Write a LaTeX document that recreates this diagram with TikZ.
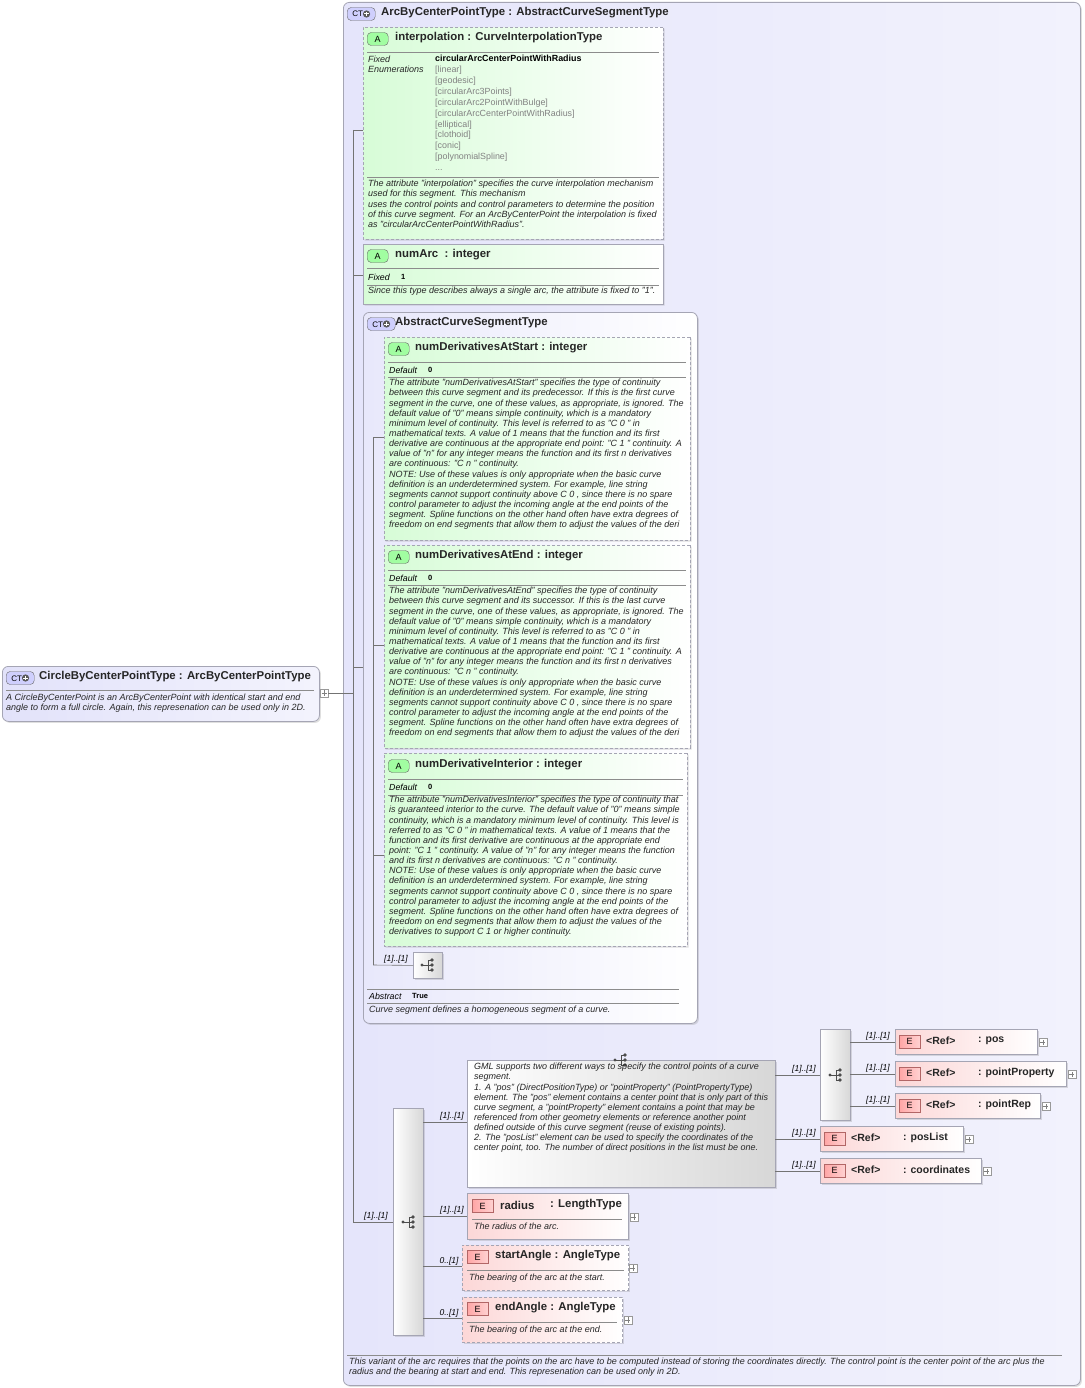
\documentclass[tikz,border=0pt]{standalone}
\usepackage{fontspec}
\setmainfont{Liberation Sans}
\usetikzlibrary{shapes.misc,shadows}
\definecolor{bord}{RGB}{165,165,180}
\definecolor{ctfill}{RGB}{226,226,250}
\definecolor{grn}{RGB}{215,252,215}
\definecolor{pnk}{RGB}{252,215,215}
\definecolor{gry}{RGB}{215,215,215}
\definecolor{txtg}{RGB}{130,130,130}
\tikzset{
 box/.style={draw=bord,anchor=north west,inner sep=0,line width=0.8pt},
 shd/.style={drop shadow={opacity=0.25,shadow xshift=1.5pt,shadow yshift=-1.5pt}},
 ctbox/.style={box,rounded corners=6pt,left color=ctfill,right color=ctfill!40!white,shd},
 abox/.style={box,chamfered rectangle,chamfered rectangle xsep=4pt,chamfered rectangle ysep=4pt,left color=grn,right color=white,shd},
 ebox/.style={box,left color=pnk,right color=white,shd},
 gbox/.style={box,left color=white,right color=gry,shd},
 dsh/.style={dash pattern=on 3pt off 2pt},
 hdr/.style={anchor=west,inner sep=0,font=\fontsize{11.4}{12}\selectfont\bfseries,text=black!85},
 desc/.style={anchor=north west,inner sep=0,align=left,font=\fontsize{9}{10.15}\selectfont\itshape,text=black!85},
 lbl/.style={anchor=south,inner sep=0,font=\fontsize{8.5}{9}\selectfont\itshape},
 sm/.style={anchor=west,inner sep=0,font=\fontsize{8.8}{9}\selectfont\itshape},
 smb/.style={anchor=west,inner sep=0,font=\fontsize{7.5}{9}\selectfont\bfseries},
 sep/.style={draw=black!45,line width=0.6pt},
 conn/.style={draw=black!55,line width=0.6pt},
 seqic/.pic={\fill[black!70] (-6,0) circle (1.6pt); \draw[black!70,line width=0.8pt] (-6,0)--(0,0) (0,-5)--(0,5) (0,-5)--(4,-5) (0,0)--(4,0) (0,5)--(4,5); \fill[black!70] (4,-5) circle (1.8pt) (4,0) circle (1.8pt) (4,5) circle (1.8pt);},
}
\newcommand\abadge[3]{\node[draw=black!60,fill=green!25!grn,rounded corners=4pt,minimum width=21pt,minimum height=13pt,inner sep=0,font=\fontsize{9}{9}\selectfont,anchor=west] (#3) at (#1,#2) {A};}
\newcommand\ebadge[3]{\node[draw=red!50!black!60,left color=red!35,right color=red!18,minimum width=21pt,minimum height=13pt,inner sep=0,font=\fontsize{9}{9}\selectfont,anchor=west] (#3) at (#1,#2) {E};}
\newcommand\ctbadge[3]{\node[draw=black!60,fill=ctfill!70!blue!50,rounded corners=4pt,minimum width=28pt,minimum height=13pt,inner sep=1pt,font=\fontsize{8}{8}\selectfont,anchor=west] (#3) at (#1,#2) {CT\tikz[baseline=-3pt]{\fill[black!65] (0,0) circle (3.6pt);\draw[white,line width=1pt] (-2.2pt,0)--(2.2pt,0) (0,-2.2pt)--(0,2.2pt);}};}
\newcommand\plusbox[3]{\node[draw=black!40,fill=white,minimum size=8pt,inner sep=0,anchor=west] (#3) at (#1,#2) {}; \draw[black!50,line width=0.4pt] ([xshift=1.5pt]#3.west)--([xshift=-1.5pt]#3.east) ([yshift=1.5pt]#3.south)--([yshift=-1.5pt]#3.north);}
\begin{document}
\begin{tikzpicture}[x=1pt,y=-1pt]
\useasboundingbox[fill=white] (0,0) rectangle (1084,1388);
% outer arc box
\node[ctbox,minimum width=737,minimum height=1383,left color=ctfill!90!white,right color=ctfill!45!white] (arc) at (343,2) {};
\ctbadge{347}{14}{arcb}
\node[hdr] (arch) at (381,13) {ArcByCenterPointType : AbstractCurveSegmentType};
% left box
\node[ctbox,minimum width=317,minimum height=55] (cbp) at (2,666) {};
\ctbadge{6}{678}{cbpb}
\node[hdr] (cbph) at (39,677) {CircleByCenterPointType : ArcByCenterPointType};
\draw[sep] (6,690)--(314,690);
\node[desc] (cbpd) at (6,694) {A CircleByCenterPoint is an ArcByCenterPoint with identical start and end\\angle to form a full circle. Again, this represenation can be used only in 2D.};
\plusbox{320}{693}{cbpx}
% main connectors
\coordinate (j0) at (353,693);
\draw[conn] (cbpx.east)--(j0);
\draw[conn] (353,130)--(353,1222);
% interpolation
\node[abox,dsh,minimum width=300,minimum height=212] (interp) at (363,27) {};
\abadge{367}{39}{ib}
\node[hdr] (ih) at (395,38) {interpolation : CurveInterpolationType};
\draw[sep] (367,52)--(659,52);
\node[desc] (ifx) at (368,56) {Fixed\\Enumerations};
\node[anchor=north west,inner sep=0,align=left,font=\fontsize{8.9}{10.9}\selectfont] (ienum) at (435,55) {\textbf{circularArcCenterPointWithRadius}\\\color{txtg}[linear]\\\color{txtg}[geodesic]\\\color{txtg}[circularArc3Points]\\\color{txtg}[circularArc2PointWithBulge]\\\color{txtg}[circularArcCenterPointWithRadius]\\\color{txtg}[elliptical]\\\color{txtg}[clothoid]\\\color{txtg}[conic]\\\color{txtg}[polynomialSpline]\\\color{txtg}...};
\draw[sep] (367,177)--(659,177);
\node[desc] (id) at (368,180) {The attribute "interpolation" specifies the curve interpolation mechanism\\used for this segment. This mechanism\\uses the control points and control parameters to determine the position\\of this curve segment. For an ArcByCenterPoint the interpolation is fixed\\as "circularArcCenterPointWithRadius".};
\draw[conn] (353,130)--(interp.west|-0,130);
% numArc
\node[abox,minimum width=300,minimum height=60] (narc) at (363,244) {};
\abadge{367}{256}{nb}
\node[hdr] (nh) at (395,255) {numArc \ : integer};
\draw[sep] (367,268)--(659,268);
\node[sm] (nf) at (368,277) {Fixed};
\node[smb] (nfv) at (401,277) {1};
\draw[sep] (367,285)--(659,285);
\node[desc] (nd) at (368,287) {Since this type describes always a single arc, the attribute is fixed to "1".};
\draw[conn] (353,275)--(363,275);
% abstract
\node[ctbox,minimum width=334,minimum height=711,left color=ctfill!80!white,right color=white] (abs) at (363,312) {};
\ctbadge{367}{324}{absb}
\node[hdr] (absh) at (395,323) {AbstractCurveSegmentType};
\draw[conn] (353,667)--(363,667);
\draw[conn] (373,437)--(373,965);
% start
\node[abox,dsh,minimum width=306,minimum height=203] (ds) at (384,337) {};
\abadge{388}{349}{dsb}
\node[hdr] (dsh) at (415,348) {numDerivativesAtStart : integer};
\draw[sep] (388,362)--(686,362);
\node[sm] (dsf) at (389,370) {Default};
\node[smb] (dsv) at (428,370) {0};
\draw[sep] (388,377)--(686,377);
\node[desc] (dsd) at (389,379) {The attribute "numDerivativesAtStart" specifies the type of continuity\\between this curve segment and its predecessor. If this is the first curve\\segment in the curve, one of these values, as appropriate, is ignored. The\\default value of "0" means simple continuity, which is a mandatory\\minimum level of continuity. This level is referred to as "C 0 " in\\mathematical texts. A value of 1 means that the function and its first\\derivative are continuous at the appropriate end point: "C 1 " continuity. A\\value of "n" for any integer means the function and its first n derivatives\\are continuous: "C n " continuity.\\NOTE: Use of these values is only appropriate when the basic curve\\definition is an underdetermined system. For example, line string\\segments cannot support continuity above C 0 , since there is no spare\\control parameter to adjust the incoming angle at the end points of the\\segment. Spline functions on the other hand often have extra degrees of\\freedom on end segments that allow them to adjust the values of the deri};
\draw[conn] (373,437)--(384,437);
% end
\node[abox,dsh,minimum width=306,minimum height=203] (de) at (384,545) {};
\abadge{388}{557}{deb}
\node[hdr] (deh) at (415,556) {numDerivativesAtEnd : integer};
\draw[sep] (388,570)--(686,570);
\node[sm] (def) at (389,578) {Default};
\node[smb] (dev) at (428,578) {0};
\draw[sep] (388,585)--(686,585);
\node[desc] (ded) at (389,587) {The attribute "numDerivativesAtEnd" specifies the type of continuity\\between this curve segment and its successor. If this is the last curve\\segment in the curve, one of these values, as appropriate, is ignored. The\\default value of "0" means simple continuity, which is a mandatory\\minimum level of continuity. This level is referred to as "C 0 " in\\mathematical texts. A value of 1 means that the function and its first\\derivative are continuous at the appropriate end point: "C 1 " continuity. A\\value of "n" for any integer means the function and its first n derivatives\\are continuous: "C n " continuity.\\NOTE: Use of these values is only appropriate when the basic curve\\definition is an underdetermined system. For example, line string\\segments cannot support continuity above C 0 , since there is no spare\\control parameter to adjust the incoming angle at the end points of the\\segment. Spline functions on the other hand often have extra degrees of\\freedom on end segments that allow them to adjust the values of the deri};
\draw[conn] (373,645)--(384,645);
% interior
\node[abox,dsh,minimum width=303,minimum height=193] (di) at (384,753) {};
\abadge{388}{766}{dib}
\node[hdr] (dih) at (415,765) {numDerivativeInterior : integer};
\draw[sep] (388,779)--(683,779);
\node[sm] (dif) at (389,787) {Default};
\node[smb] (div) at (428,787) {0};
\draw[sep] (388,795)--(683,795);
\node[desc] (did) at (389,796) {The attribute "numDerivativesInterior" specifies the type of continuity that\\is guaranteed interior to the curve. The default value of "0" means simple\\continuity, which is a mandatory minimum level of continuity. This level is\\referred to as "C 0 " in mathematical texts. A value of 1 means that the\\function and its first derivative are continuous at the appropriate end\\point: "C 1 " continuity. A value of "n" for any integer means the function\\and its first n derivatives are continuous: "C n " continuity.\\NOTE: Use of these values is only appropriate when the basic curve\\definition is an underdetermined system. For example, line string\\segments cannot support continuity above C 0 , since there is no spare\\control parameter to adjust the incoming angle at the end points of the\\segment. Spline functions on the other hand often have extra degrees of\\freedom on end segments that allow them to adjust the values of the\\derivatives to support C 1 or higher continuity.};
\draw[conn] (373,855)--(384,855);
% abstract seq
\node[gbox,minimum width=29,minimum height=26] (aseq) at (413,952) {};
\pic at (428,965) {seqic};
\draw[conn] (373,965)--(aseq.west);
\node[lbl] (aseql) at (396,963) {[1]..[1]};
\draw[sep] (367,989)--(679,989);
\node[sm] (absa) at (369,996) {Abstract};
\node[smb] (absv) at (412,996) {True};
\draw[sep] (367,1003)--(679,1003);
\node[desc] (absd) at (369,1006) {Curve segment defines a homogeneous segment of a curve.};
% big sequence
\node[gbox,minimum width=30,minimum height=227] (bseq) at (393,1108) {};
\pic at (409,1222) {seqic};
\draw[conn] (353,1222)--(bseq.west|-0,1222);
\node[lbl] (bseql) at (376,1220) {[1]..[1]};
% choice
\node[gbox,minimum width=308,minimum height=127] (ch) at (467,1060) {};
\pic at (621,1060) {seqic};
\node[desc] (chd) at (474,1063) {GML supports two different ways to specify the control points of a curve\\segment.\\1. A "pos" (DirectPositionType) or "pointProperty" (PointPropertyType)\\element. The "pos" element contains a center point that is only part of this\\curve segment, a "pointProperty" element contains a point that may be\\referenced from other geometry elements or reference another point\\defined outside of this curve segment (reuse of existing points).\\2. The "posList" element can be used to specify the coordinates of the\\center point, too. The number of direct positions in the list must be one.};
\draw[conn] (423,1122)--(467,1122);
\node[lbl] (chl) at (452,1120) {[1]..[1]};
% inner seq
\node[gbox,minimum width=30,minimum height=91] (iseq) at (820,1029) {};
\pic at (836,1075) {seqic};
\draw[conn] (775,1075)--(820,1075);
\node[lbl] (iseql) at (804,1073) {[1]..[1]};
% refs
\newcommand\refbox[6]{\node[ebox,minimum width=#3,minimum height=25] (#6) at (#1,#2) {};
 \ebadge{#1+4}{#2+12.5}{#6b}
 \node[hdr,font=\fontsize{10.5}{11}\selectfont\bfseries] at (#1+31,#2+11.5) {<Ref>};
 \node[hdr,font=\fontsize{10.5}{11}\selectfont\bfseries] at (#1+#5,#2+11.5) {: #4};
 \plusbox{#1+#3+1.5}{#2+13.5}{#6x}}
\refbox{895}{1029}{142}{pos}{83}{rpos}
\refbox{895}{1061}{171}{pointProperty}{83}{rpp}
\refbox{895}{1093}{145}{pointRep}{83}{rpr}
\refbox{820}{1126}{143}{posList}{83}{rpl}
\refbox{820}{1158}{161}{coordinates}{83}{rco}
\draw[conn] (850,1042)--(895,1042); \node[lbl] at (878,1040) {[1]..[1]};
\draw[conn] (850,1074)--(895,1074); \node[lbl] at (878,1072) {[1]..[1]};
\draw[conn] (850,1106)--(895,1106); \node[lbl] at (878,1104) {[1]..[1]};
\draw[conn] (775,1139)--(820,1139); \node[lbl] at (804,1137) {[1]..[1]};
\draw[conn] (775,1171)--(820,1171); \node[lbl] at (804,1169) {[1]..[1]};
% radius
\node[ebox,minimum width=161,minimum height=46] (rad) at (467,1193) {};
\ebadge{472}{1206}{radb}
\node[hdr] (radh) at (500,1205) {radius};
\node[hdr] (radt) at (550,1205) {: LengthType};
\draw[sep] (472,1219)--(622,1219);
\node[desc] (radd) at (474,1223) {The radius of the arc.};
\plusbox{629.5}{1217}{radx}
\draw[conn] (423,1216)--(467,1216); \node[lbl] at (452,1214) {[1]..[1]};
% start angle
\node[ebox,dsh,minimum width=166,minimum height=45] (sa) at (462,1245) {};
\ebadge{467}{1257}{sab}
\node[hdr] (sah) at (495,1256) {startAngle : AngleType};
\draw[sep] (467,1270)--(624,1270);
\node[desc] (sad) at (469,1274) {The bearing of the arc at the start.};
\plusbox{628.5}{1268}{sax}
\draw[conn] (423,1266)--(462,1266); \node[lbl] at (449,1265) {0..[1]};
% end angle
\node[ebox,dsh,minimum width=160,minimum height=45] (ea) at (462,1297) {};
\ebadge{467}{1309}{eab}
\node[hdr] (eah) at (495,1308) {endAngle : AngleType};
\draw[sep] (467,1322)--(617,1322);
\node[desc] (ead) at (469,1326) {The bearing of the arc at the end.};
\plusbox{623.5}{1320}{eax}
\draw[conn] (423,1318)--(462,1318); \node[lbl] at (449,1317) {0..[1]};
% bottom
\draw[sep] (347,1355)--(1062,1355);
\node[desc] (arcd) at (349,1358) {This variant of the arc requires that the points on the arc have to be computed instead of storing the coordinates directly. The control point is the center point of the arc plus the\\radius and the bearing at start and end. This represenation can be used only in 2D.};
\end{tikzpicture}
\end{document}
